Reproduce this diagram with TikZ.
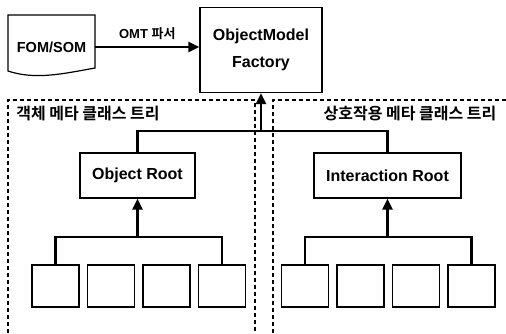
\documentclass[tikz,border=0pt]{standalone}
\usepackage{fontspec}
\setmainfont{Liberation Sans}
\newfontfamily\kr{Noto Sans CJK KR}[BoldFont={Noto Sans CJK KR Bold}]
\usetikzlibrary{arrows.meta,positioning}

\begin{document}
\begin{tikzpicture}[x=1pt,y=-1pt,
		box/.style={draw,line width=1.2pt,inner sep=0pt,font=\bfseries\fontsize{16}{18}\selectfont},
		leaf/.style={draw,line width=1.2pt,inner sep=0pt,minimum width=47pt,minimum height=42pt},
		conn/.style={line width=2.6pt},
		arr/.style={line width=2.6pt,-{Triangle[length=11pt,width=10pt]}},
		region/.style={line width=1.2pt,dash pattern=on 4pt off 3pt},
		title/.style={font=\kr\bfseries\fontsize{16}{18}\selectfont}]
	\useasboundingbox (0,0) rectangle (506,333);
	% source file
	\node[inner sep=0pt,minimum width=87pt,minimum height=64pt,font=\bfseries\fontsize{14.5}{16}\selectfont] (fom) at (51.5,47) {FOM/SOM};
	\draw[line width=1.2pt] (8,15) -- (95,15) -- (95,68) .. controls (62,74) and (35,80) .. (8,71) -- cycle;
	% factory
	\node[box,minimum width=122pt,minimum height=85pt,align=center] (factory) at (261,50) {ObjectModel\\[9pt]Factory};
	\draw[arr] (fom.east) -- (fom.east -| factory.west)
		node[midway,above=3pt,font=\bfseries\fontsize{13}{15}\selectfont] (omt) {OMT {\kr 파서}};

	% meta class trees
	\draw[region] (8,340) -- (8,100) -- (255,100) -- (255,340);
	\draw[region] (273,340) -- (273,100) -- (510,100);
	\node[title] (objtitle) at (88,114) {객체 메타 클래스 트리};
	\node[title] (inttitle) at (410,114) {상호작용 메타 클래스 트리};

	% roots
	\node[box,minimum width=115pt,minimum height=45pt] (objroot) at (137.5,175.5) {Object Root};
	\node[box,minimum width=147pt,minimum height=45pt] (introot) at (387.5,175.5) {Interaction Root};
	\coordinate (join) at (261,131);
	\draw[conn] (objroot.north) |- (join) -| (introot.north);
	\draw[arr] (join) -- (factory.south);

	% leaves
	\foreach \i/\x in {1/55.5,2/111,3/166.5,4/222}
		\node[leaf] (ol\i) at (\x,286) {};
	\foreach \i/\x in {1/305,2/360.5,3/416,4/471.5}
		\node[leaf] (il\i) at (\x,286) {};
	\coordinate (objjoin) at (137.5,237);
	\coordinate (intjoin) at (387.5,237);
	\draw[conn] (ol1.north) |- (objjoin) -| (ol4.north);
	\draw[arr] (objjoin) -- (objroot.south);
	\draw[conn] (il1.north) |- (intjoin) -| (il4.north);
	\draw[arr] (intjoin) -- (introot.south);
\end{tikzpicture}
\end{document}
